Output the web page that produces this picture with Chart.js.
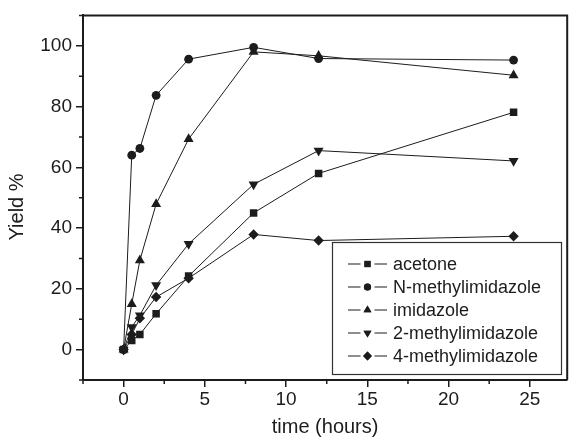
<!DOCTYPE html>
<html><head><meta charset="utf-8">
<script src="https://cdn.jsdelivr.net/npm/chart.js@4/dist/chart.umd.min.js"></script>
<style>html,body{margin:0;padding:0;background:#fff;overflow:hidden}#wrap{width:573px;height:439px;position:relative}</style>
</head><body>
<div id="wrap"><canvas id="c" width="573" height="439"></canvas></div>
<script>
// ---- data ----
const times = [0, 0.5, 1, 2, 4, 8, 12, 24];
const acetone = [0, 3.0, 5.0, 11.8, 24.2, 45.0, 58.0, 78.1];
const nMethylimidazole = [0, 64.0, 66.2, 83.7, 95.6, 99.5, 95.8, 95.3];
const imidazole = [0, 15.0, 29.4, 47.9, 69.3, 98.0, 96.7, 90.3];
const methylimidazole2 = [0, 7.4, 11.3, 21.2, 34.8, 54.4, 65.5, 62.1];
const methylimidazole4 = [0, 5.0, 10.3, 17.3, 23.5, 37.9, 35.9, 37.3];
const seriesNames = ['acetone', 'N-methylimidazole', 'imidazole', '2-methylimidazole', '4-methylimidazole'];
const xTickValues = [0, 5, 10, 15, 20, 25];
const xMinorTicks = [-2.5, 2.5, 7.5, 12.5, 17.5, 22.5];
const yTickValues = [0, 20, 40, 60, 80, 100];
const yMinorTicks = [-10, 10, 30, 50, 70, 90, 110];
const xTitle = 'time (hours)';
const yTitle = 'Yield %';

// ---- styles ----
const INK = '#1c1c1c';
const FONT = '"Liberation Sans", Arial, Helvetica, sans-serif';
const markers = [
  {pointStyle: 'rect', radius: 5.3, rotation: 0, legendRadius: 4.4},
  {pointStyle: 'circle', radius: 4.4, rotation: 0, legendRadius: 3.6},
  {pointStyle: 'triangle', radius: 5.8, rotation: 0, legendRadius: 4.6},
  {pointStyle: 'triangle', radius: 5.8, rotation: 180, legendRadius: 4.6},
  {pointStyle: 'rectRot', radius: 5.2, rotation: 0, legendRadius: 4.4}
];
const allSeries = [acetone, nMethylimidazole, imidazole, methylimidazole2, methylimidazole4];

const datasets = allSeries.map((vals, i) => ({
  label: seriesNames[i],
  data: times.map((t, k) => ({x: t, y: vals[k]})),
  borderColor: INK,
  borderWidth: 1,
  backgroundColor: INK,
  pointBackgroundColor: INK,
  pointBorderColor: INK,
  pointBorderWidth: 0,
  pointStyle: markers[i].pointStyle,
  pointRadius: markers[i].radius,
  pointRotation: markers[i].rotation,
  pointHoverRadius: markers[i].radius,
  tension: 0,
  fill: false
}));

const legendBox = {left: 332, top: 242, right: 561, bottom: 374, lineX0: 348, lineX1: 387, textX: 393, rowY0: 264, rowStep: 23};

function drawMarker(ctx, style, r, rot, x, y) {
  if (Chart.helpers && Chart.helpers.drawPoint) {
    ctx.fillStyle = INK; ctx.strokeStyle = INK; ctx.lineWidth = 0.01;
    Chart.helpers.drawPoint(ctx, {pointStyle: style, radius: r, rotation: rot, borderWidth: 0}, x, y);
    ctx.fill();
  }
}

const framePlugin = {
  id: 'frame',
  afterDraw(chart) {
    const ctx = chart.ctx;
    const a = chart.chartArea;
    const xs = chart.scales.x, ys = chart.scales.y;
    ctx.save();
    ctx.strokeStyle = INK;
    ctx.lineWidth = 2;
    ctx.beginPath();
    ctx.moveTo(a.left - 1, a.top);
    ctx.lineTo(a.right, a.top);
    ctx.lineTo(a.right, a.bottom);
    ctx.stroke();
    // minor ticks
    ctx.lineWidth = 1.5;
    ctx.beginPath();
    xMinorTicks.forEach(v => {
      const px = xs.getPixelForValue(v);
      ctx.moveTo(px, a.bottom); ctx.lineTo(px, a.bottom + 4);
    });
    yMinorTicks.forEach(v => {
      const py = ys.getPixelForValue(v);
      ctx.moveTo(a.left, py); ctx.lineTo(a.left - 4, py);
    });
    ctx.stroke();
    // y title
    ctx.fillStyle = INK;
    ctx.font = '20px ' + FONT;
    ctx.textAlign = 'center';
    ctx.textBaseline = 'middle';
    ctx.translate(17, 207);
    ctx.rotate(-Math.PI / 2);
    ctx.fillText(yTitle, 0, 0);
    ctx.restore();

    // legend
    const L = legendBox;
    ctx.save();
    ctx.fillStyle = '#fff';
    ctx.fillRect(L.left, L.top, L.right - L.left, L.bottom - L.top);
    ctx.strokeStyle = '#333';
    ctx.lineWidth = 1.2;
    ctx.strokeRect(L.left + 0.5, L.top + 0.5, L.right - L.left, L.bottom - L.top);
    chart.data.datasets.forEach((ds, i) => {
      const y = L.rowY0 + i * L.rowStep;
      const mx = (L.lineX0 + L.lineX1) / 2;
      ctx.strokeStyle = INK; ctx.lineWidth = 1;
      ctx.beginPath();
      ctx.moveTo(L.lineX0, y); ctx.lineTo(mx - 7, y);
      ctx.moveTo(mx + 7, y); ctx.lineTo(L.lineX1, y);
      ctx.stroke();
      drawMarker(ctx, markers[i].pointStyle, markers[i].legendRadius, markers[i].rotation, mx, y);
      ctx.fillStyle = INK;
      ctx.font = '18px ' + FONT;
      ctx.textAlign = 'left';
      ctx.textBaseline = 'middle';
      ctx.fillText(ds.label, L.textX, y + 1);
    });
    ctx.restore();
  }
};

new Chart(document.getElementById('c'), {
  type: 'line',
  data: {datasets},
  plugins: [framePlugin],
  options: {
    responsive: false,
    animation: false,
    devicePixelRatio: 1,
    layout: {padding: {top: 13, right: 1, bottom: 0, left: 0}},
    plugins: {legend: {display: false}, tooltip: {enabled: false}},
    scales: {
      x: {
        type: 'linear',
        min: -2.5,
        max: 27.3,
        afterBuildTicks: s => { s.ticks = xTickValues.map(v => ({value: v})); },
        afterFit: s => { s.height = 59; },
        grid: {display: true, drawOnChartArea: false, drawTicks: true, tickLength: 7, color: INK, lineWidth: 1.5},
        border: {display: true, color: INK, width: 2},
        ticks: {color: INK, font: {family: FONT, size: 19}, padding: 1, maxRotation: 0, autoSkip: false},
        title: {display: true, text: xTitle, color: INK, font: {family: FONT, size: 20, lineHeight: 1.2}, padding: {top: 0, bottom: 0}}
      },
      y: {
        type: 'linear',
        min: -10,
        max: 110,
        afterBuildTicks: s => { s.ticks = yTickValues.map(v => ({value: v})); },
        afterFit: s => { s.width = 83; },
        grid: {display: true, drawOnChartArea: false, drawTicks: true, tickLength: 7, color: INK, lineWidth: 1.5},
        border: {display: true, color: INK, width: 2},
        ticks: {color: INK, font: {family: FONT, size: 19}, padding: 4, autoSkip: false}
      }
    }
  }
});
</script>
</body></html>
